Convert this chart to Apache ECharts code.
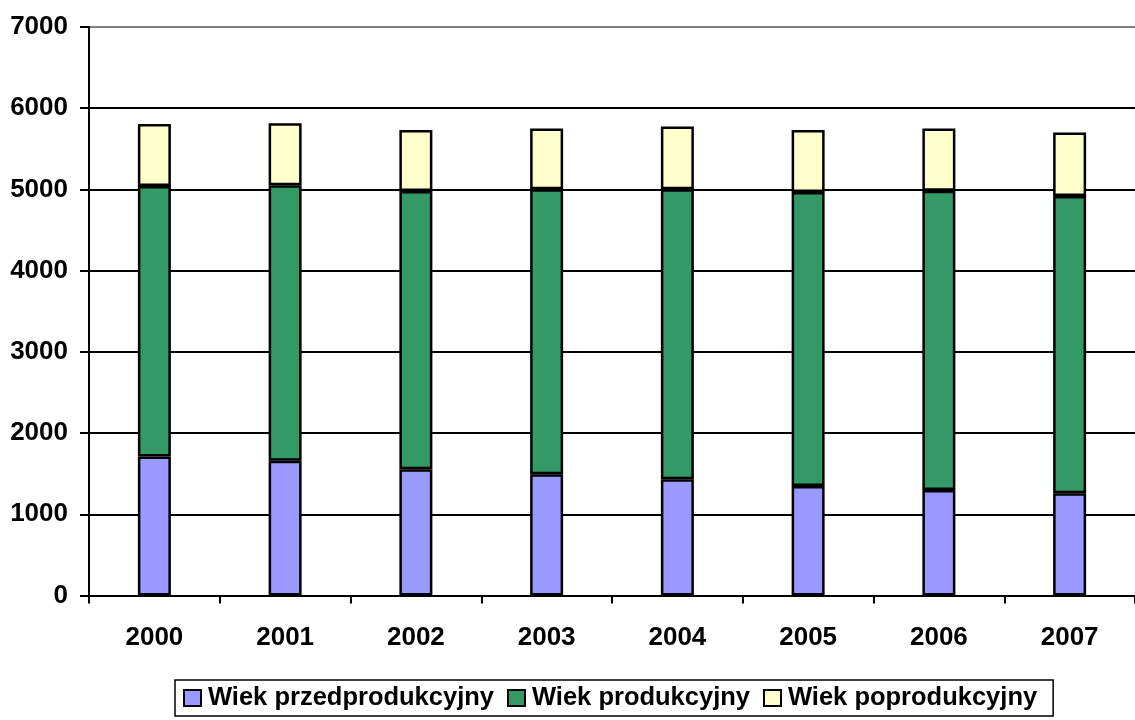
<!DOCTYPE html>
<html>
<head>
<meta charset="utf-8">
<script src="https://cdn.jsdelivr.net/npm/echarts@6/dist/echarts.min.js"></script>
<style>
html,body{margin:0;padding:0;background:#fff;}
#chart{width:1135px;height:720px;}
</style>
</head>
<body>
<div id="chart"></div>
<script>
const years = ['2000','2001','2002','2003','2004','2005','2006','2007'];
const seriesNames = ['Wiek przedprodukcyjny','Wiek produkcyjny','Wiek poprodukcyjny'];
const preProductive = [1710,1660,1554,1493,1431,1349,1299,1259];
const productive = [3333,3392,3428,3509,3571,3620,3686,3661];
const postProductive = [764,763,751,747,772,764,764,780];
const yMin = 0, yMax = 7000, yStep = 1000;

const font = "'Liberation Sans', Arial, sans-serif";
const colors = ['#9999FF','#339966','#FFFFCC'];
const dataSets = [preProductive, productive, postProductive];

const chart = echarts.init(document.getElementById('chart'), null, {renderer:'canvas'});
chart.setOption({
  animation:false,
  backgroundColor:'#fff',
  textStyle:{fontFamily:font},
  grid:{left:89, right:0, top:27, bottom:124.5, containLabel:false},
  legend:{
    left:175, top:680,
    padding:[5,16,5,8],
    borderColor:'#000', borderWidth:1.5,
    icon:'rect',
    itemWidth:17, itemHeight:16, itemGap:13,
    textStyle:{fontFamily:font, fontWeight:'bold', fontSize:25.5, color:'#000', padding:[0,0,0,2]},
    data:seriesNames.map((n,i)=>({name:n, itemStyle:{color:colors[i], borderColor:'#000', borderWidth:2}}))
  },
  xAxis:{
    type:'category', data:years,
    axisLine:{lineStyle:{color:'#000', width:2}},
    axisTick:{show:true, length:8, lineStyle:{color:'#000', width:2}},
    axisLabel:{margin:29, color:'#000', fontWeight:'bold', fontSize:26, fontFamily:font},
    splitLine:{show:false}
  },
  yAxis:{
    type:'value', min:yMin, max:yMax, interval:yStep,
    axisLine:{show:true, lineStyle:{color:'#000', width:2}},
    axisTick:{show:true, length:9, lineStyle:{color:'#000', width:2}},
    axisLabel:{margin:21, color:'#000', fontWeight:'bold', fontSize:26, fontFamily:font, formatter:v=>String(v)},
    splitLine:{show:true, lineStyle:{color:['#000','#000','#000','#000','#000','#000','#000','#808080'], width:2}}
  },
  series:dataSets.map((d,i)=>({
    name:seriesNames[i], type:'bar', stack:'total', data:d, barWidth:33,
    itemStyle:{color:colors[i], borderColor:'#000', borderWidth:2.5}
  }))
});
</script>
</body>
</html>
